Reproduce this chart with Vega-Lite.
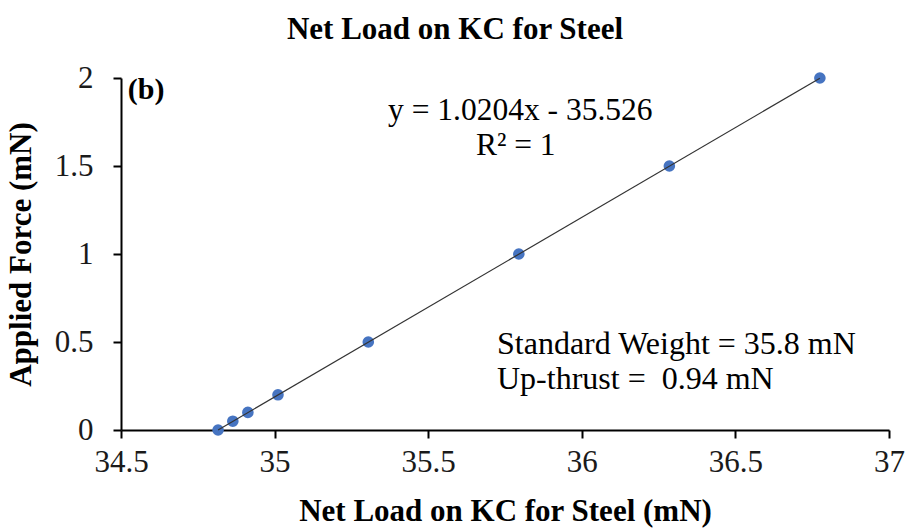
{
  "$schema": "https://vega.github.io/schema/vega-lite/v6.json",
  "width": 768,
  "height": 352,
  "autosize": {"type": "none"},
  "padding": {"left": 121, "top": 78, "right": 18, "bottom": 99},
  "background": "white",
  "config": {
    "view": {"stroke": null},
    "font": "Liberation Serif"
  },
  "title": {
    "text": "Net Load on KC for Steel",
    "font": "Liberation Serif",
    "fontSize": 31,
    "fontWeight": "bold",
    "color": "black",
    "offset": 16,
    "dx": -50
  },
  "datasets": {
    "points": [
      {"load": 34.816, "force": 0},
      {"load": 34.864, "force": 0.05},
      {"load": 34.913, "force": 0.1},
      {"load": 35.011, "force": 0.2},
      {"load": 35.305, "force": 0.5},
      {"load": 35.795, "force": 1.0},
      {"load": 36.285, "force": 1.5},
      {"load": 36.775, "force": 2.0}
    ],
    "trend": [
      {"load": 34.816, "force": 0.0},
      {"load": 36.775, "force": 1.999}
    ],
    "labels": [
      {"load": 34.522, "force": 1.93, "text": "(b)", "kind": "b"},
      {"load": 35.8, "force": 1.81, "text": "y = 1.0204x - 35.526", "kind": "eq"},
      {"load": 35.785, "force": 1.615, "text": "R² = 1", "kind": "eq"},
      {"load": 35.724, "force": 0.49, "text": "Standard Weight = 35.8 mN", "kind": "note"},
      {"load": 35.724, "force": 0.29, "text": "Up-thrust = \u00a00.94 mN", "kind": "note"}
    ]
  },
  "layer": [
    {
      "data": {"name": "points"},
      "mark": {"type": "circle", "size": 135, "color": "#4674c1", "opacity": 1},
      "encoding": {
        "x": {
          "field": "load",
          "type": "quantitative",
          "scale": {"domain": [34.5, 37], "nice": false, "zero": false},
          "axis": {
            "title": "Net Load on KC for Steel (mN)",
            "values": [34.5, 35, 35.5, 36, 36.5, 37],
            "format": "~g",
            "grid": false,
            "domainColor": "black",
            "domainWidth": 2,
            "tickColor": "black",
            "tickWidth": 2,
            "tickSize": 8,
            "labelFont": "Liberation Serif",
            "labelFontSize": 31,
            "labelColor": "#1a1a1a",
            "labelPadding": 9,
            "labelFlush": false,
            "labelOverlap": false,
            "titleFont": "Liberation Serif",
            "titleFontSize": 31,
            "titleFontWeight": "bold",
            "titleColor": "black",
            "titlePadding": 19
          }
        },
        "y": {
          "field": "force",
          "type": "quantitative",
          "scale": {"domain": [0, 2], "nice": false},
          "axis": {
            "title": "Applied Force (mN)",
            "values": [0, 0.5, 1, 1.5, 2],
            "format": "~g",
            "grid": false,
            "domainColor": "black",
            "domainWidth": 2,
            "tickColor": "black",
            "tickWidth": 2,
            "tickSize": 8,
            "labelFont": "Liberation Serif",
            "labelFontSize": 31,
            "labelColor": "#1a1a1a",
            "labelPadding": 20,
            "labelFlush": false,
            "labelOverlap": false,
            "titleFont": "Liberation Serif",
            "titleFontSize": 31,
            "titleFontWeight": "bold",
            "titleColor": "black",
            "titlePadding": 17
          }
        }
      }
    },
    {
      "data": {"name": "trend"},
      "mark": {"type": "line", "color": "#333333", "strokeWidth": 1.2},
      "encoding": {
        "x": {"field": "load", "type": "quantitative"},
        "y": {"field": "force", "type": "quantitative"}
      }
    },
    {
      "data": {"name": "labels"},
      "transform": [{"filter": "datum.kind == 'b'"}],
      "mark": {"type": "text", "align": "left", "baseline": "middle", "fontSize": 30, "fontWeight": "bold", "font": "Liberation Serif", "color": "black"},
      "encoding": {
        "x": {"field": "load", "type": "quantitative"},
        "y": {"field": "force", "type": "quantitative"},
        "text": {"field": "text"}
      }
    },
    {
      "data": {"name": "labels"},
      "transform": [{"filter": "datum.kind == 'eq'"}],
      "mark": {"type": "text", "align": "center", "baseline": "middle", "fontSize": 31.5, "font": "Liberation Serif", "color": "black"},
      "encoding": {
        "x": {"field": "load", "type": "quantitative"},
        "y": {"field": "force", "type": "quantitative"},
        "text": {"field": "text"}
      }
    },
    {
      "data": {"name": "labels"},
      "transform": [{"filter": "datum.kind == 'note'"}],
      "mark": {"type": "text", "align": "left", "baseline": "middle", "fontSize": 32, "font": "Liberation Serif", "color": "black"},
      "encoding": {
        "x": {"field": "load", "type": "quantitative"},
        "y": {"field": "force", "type": "quantitative"},
        "text": {"field": "text"}
      }
    }
  ]
}
